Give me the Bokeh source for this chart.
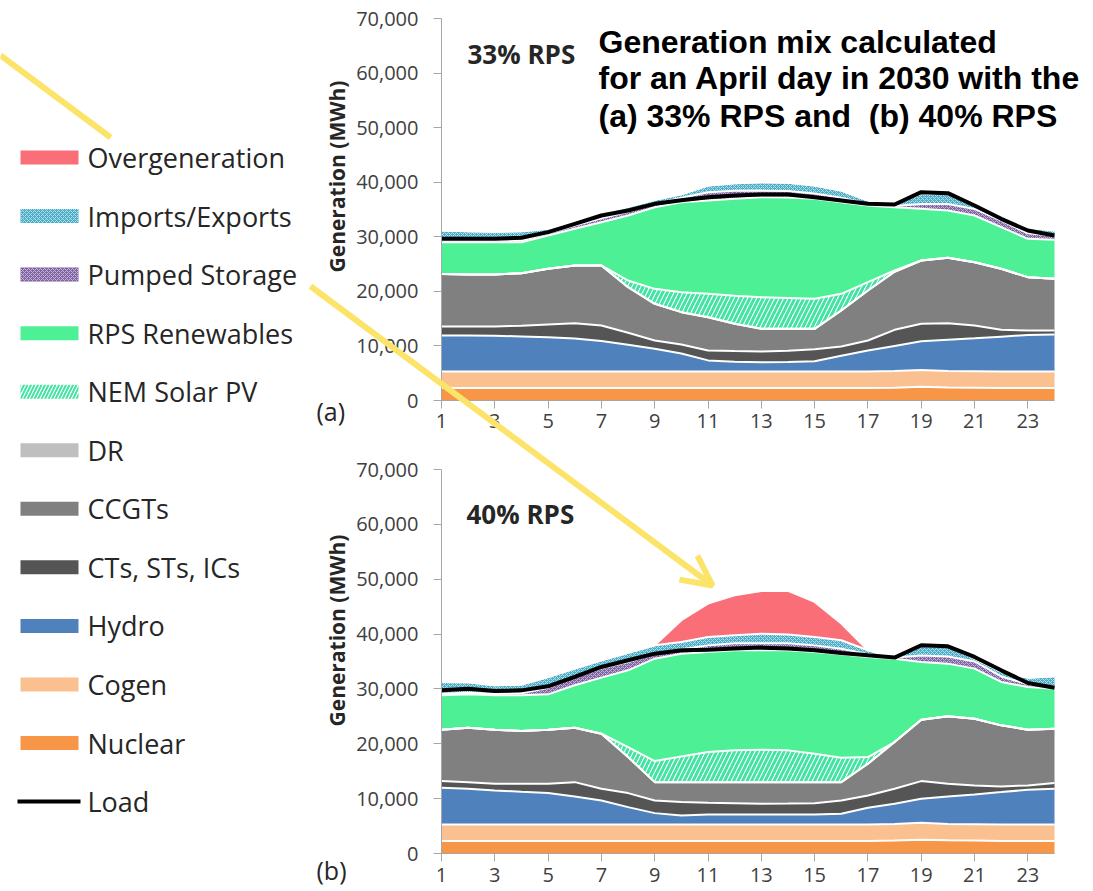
import math
import numpy as np
from bokeh.plotting import figure
from bokeh.models import (Range1d, FixedTicker, NumeralTickFormatter, Label, Arrow,
                          OpenHead, ColumnDataSource, LinearAxis)
from bokeh.embed import file_html
from bokeh.resources import INLINE
from bokeh.core.properties import value

# ---------------------------------------------------------------- data
hours = list(range(1, 25))
x_ticks = [1, 3, 5, 7, 9, 11, 13, 15, 17, 19, 21, 23]
y_ticks = [0, 10000, 20000, 30000, 40000, 50000, 60000, 70000]

# stacking order, bottom -> top
stack_keys = ["nuclear", "cogen", "hydro", "cts", "ccgt", "dr", "solar", "rps",
              "pumped", "imports", "overgen"]
stack_names = ["Nuclear", "Cogen", "Hydro", "CTs, STs, ICs", "CCGTs", "DR",
               "NEM Solar PV", "RPS Renewables", "Pumped Storage", "Imports/Exports",
               "Overgeneration"]
legend_names = ["Overgeneration", "Imports/Exports", "Pumped Storage", "RPS Renewables",
                "NEM Solar PV", "DR", "CCGTs", "CTs, STs, ICs", "Hydro", "Cogen",
                "Nuclear", "Load"]

# (a) 33% RPS
nuclear_a = [2300, 2300, 2300, 2300, 2300, 2300, 2300, 2300, 2300, 2300, 2300, 2300,
             2300, 2300, 2300, 2300, 2300, 2350, 2500, 2400, 2350, 2300, 2300, 2300]
cogen_a = [3000, 3000, 3000, 3000, 3000, 3000, 3000, 3000, 3000, 3000, 3000, 3000,
           3000, 3000, 3000, 3000, 3000, 3050, 3100, 3000, 3000, 3000, 3000, 3000]
hydro_a = [6600, 6600, 6550, 6450, 6300, 6050, 5600, 4900, 4200, 3300, 2050, 1800,
           1700, 1750, 1900, 2900, 3850, 4600, 5250, 5750, 6050, 6400, 6700, 6800]
cts_a = [1660, 1660, 1710, 1950, 2330, 2820, 2840, 2200, 1500, 1660, 1810, 1950,
         1980, 2050, 2200, 1700, 1850, 2950, 3200, 3020, 2340, 1250, 830, 730]
ccgt_a = [9640, 9540, 9530, 9630, 10200, 10570, 11000, 8370, 6720, 5930, 6110, 5000,
          4150, 4030, 3730, 6590, 9160, 10650, 11610, 11980, 11610, 11180, 9770, 9470]
dr_a = [0, 0, 0, 0, 0, 0, 0, 0, 0, 0, 0, 0, 0, 0, 0, 0, 0, 0, 0, 0, 0, 0, 0, 0]
solar_a = [0, 0, 0, 0, 0, 0, 0, 1220, 2740, 3660, 4280, 5150,
           5810, 5670, 5500, 3060, 1530, 220, 0, 0, 0, 0, 0, 0]
rps_a = [5810, 5910, 5920, 5680, 6110, 6720, 7940, 11910, 14960, 16490, 17100, 17750,
         18320, 18400, 18320, 16790, 14040, 11600, 9460, 8670, 8550, 7640, 7030, 7150]
pumped_a = [300, 300, 300, 300, 400, 600, 700, 700, 600, 800, 1500, 1500,
            1200, 1200, 1000, 800, 300, 200, 900, 1200, 1200, 1200, 1000, 800]
imports_a = [1840, 1690, 1590, 1690, 820, 740, 920, 900, 780, 660, 1250, 1350,
             1550, 1500, 1450, 1340, 620, 420, 1850, 1850, 630, 630, 1020, 900]
overgen_a = [0, 0, 0, 0, 0, 0, 0, 0, 0, 0, 0, 0, 0, 0, 0, 0, 0, 0, 0, 0, 0, 0, 0, 0]
load_a = [29630, 29630, 29630, 29820, 30850, 32380, 33900, 34820, 36040, 36700, 37260, 37570,
          37750, 37750, 37260, 36650, 36040, 35920, 38180, 38000, 35730, 33290, 31150, 30240]

# (b) 40% RPS
nuclear_b = [2300, 2300, 2300, 2300, 2300, 2300, 2300, 2300, 2300, 2300, 2300, 2300,
             2300, 2300, 2300, 2300, 2300, 2350, 2500, 2400, 2350, 2300, 2300, 2300]
cogen_b = [3000, 3000, 3000, 3000, 3000, 3000, 3000, 3000, 3000, 3000, 3000, 3000,
           3000, 3000, 3000, 3000, 3000, 3050, 3100, 3000, 3000, 3000, 3000, 3000]
hydro_b = [6700, 6500, 6200, 5950, 5710, 5100, 4370, 3150, 2060, 1630, 1820, 1820,
           1820, 1820, 1820, 1940, 3030, 3660, 4370, 5000, 5420, 5890, 6320, 6500]
cts_b = [1200, 1200, 1210, 1460, 1700, 2610, 2130, 2560, 2310, 2440, 2130, 2030,
         1940, 1980, 2060, 2430, 2250, 2740, 3230, 2310, 1640, 1040, 790, 1030]
ccgt_b = [9370, 9930, 9860, 9620, 9860, 9920, 10040, 6570, 3340, 3640, 3760, 3860,
          3950, 3910, 3830, 3340, 5780, 8510, 11190, 12290, 12160, 11130, 10160, 9920]
dr_b = [0, 0, 0, 0, 0, 0, 0, 0, 0, 0, 0, 0, 0, 0, 0, 0, 0, 0, 0, 0, 0, 0, 0, 0]
solar_b = [0, 0, 0, 0, 0, 0, 0, 1820, 3840, 4690, 5480, 5790,
           5910, 5790, 5180, 4450, 1220, 0, 0, 0, 0, 0, 0, 0]
rps_b = [6260, 6080, 6260, 6500, 6440, 7730, 10220, 13990, 18670, 18730, 18250, 18240,
         18120, 18240, 18550, 18850, 18250, 15210, 10520, 9610, 9130, 7910, 7780, 7300]
pumped_b = [300, 300, 300, 400, 1200, 1500, 1700, 1500, 900, 800, 1200, 1300,
            1300, 1300, 1200, 1000, 500, 200, 1200, 1300, 1300, 1000, 500, 300]
imports_b = [2140, 1890, 1530, 1570, 1970, 1540, 1460, 1710, 1540, 1330, 1530, 1460,
             1740, 1560, 1530, 1560, 710, 0, 1850, 1890, 520, 820, 1210, 1950]
overgen_b = [0, 0, 0, 0, 0, 0, 0, 0, 0, 3960, 6090, 7280,
             7790, 7970, 6390, 3040, 0, 0, 0, 0, 0, 0, 0, 0]
load_b = [29740, 30050, 29620, 29740, 30470, 32180, 34000, 35220, 36430, 37040, 37160, 37350,
          37530, 37350, 37040, 36560, 36130, 35710, 37960, 37770, 35830, 33390, 31080, 30230]

title_lines = ["Generation mix calculated", "for an April day in 2030 with the",
               "(a) 33% RPS and  (b) 40% RPS"]
panel_titles = ["33% RPS", "40% RPS"]
panel_tags = ["(a)", "(b)"]
y_title = "Generation (MWh)"

# ---------------------------------------------------------------- styles
fill_colors = {"nuclear": "#F79646", "cogen": "#FAC090", "hydro": "#4F81BD",
               "cts": "#555555", "ccgt": "#808080", "dr": "#BFBFBF", "solar": "#FFFFFF",
               "rps": "#4EF096", "pumped": "#8064A2", "imports": "#4BACC6",
               "overgen": "#FA6E78"}
hatch_patterns = {"solar": "right_diagonal_line", "pumped": "diagonal_cross",
                  "imports": "diagonal_cross"}
hatch_colors = {"solar": "#45E3A3", "pumped": "#C3B3D8", "imports": "#B0DDEA"}
hatch_scales = {"solar": 9, "pumped": 4, "imports": 4}
hatch_weights = {"solar": 3, "pumped": 1, "imports": 1}
YELLOW = "#FCE36A"
FONT = "Open Sans"
TICK_COLOR = "#A6A6A6"
LABEL_COLOR = "#404040"
TEXT_COLOR = "#262626"

# page geometry (pixels from the top-left of the page)
W, H = 1090, 890
FRAME_A = (441, 1054, 18, 400)      # left, right, top, bottom of panel (a)
FRAME_B = (441, 1054, 469, 853)     # panel (b)
ARROW_START = (0, 55)
ARROW_END = (712, 585)
LEGEND_BOX = (8, 310, 137)          # left, right, top of the legend box

p = figure(width=W, height=H, x_range=Range1d(0, W), y_range=Range1d(H, 0),
           output_backend="svg", toolbar_location=None, min_border=0,
           x_axis_type=None, y_axis_type=None)
p.outline_line_color = None
p.background_fill_color = "white"
p.border_fill_color = "white"


def panel_ranges(frame):
    l, r, t, b = frame
    hx = lambda px: 1 + (px - l) / (r - l) * (hours[-1] - hours[0])
    vy = lambda py: (b - py) / (b - t) * y_ticks[-1]
    return Range1d(hx(0), hx(W)), Range1d(vy(H), vy(0))


def draw_panel(name, frame, data, load, tick_standoff):
    xr, yr = panel_ranges(frame)
    p.extra_x_ranges[name + "_x"] = xr
    p.extra_y_ranges[name + "_y"] = yr
    rk = dict(x_range_name=name + "_x", y_range_name=name + "_y")

    cum = np.zeros(len(hours))
    bottoms, tops = [], []
    for k in stack_keys:
        bottoms.append(cum.copy())
        cum = cum + np.array(data[k], dtype=float)
        tops.append(cum.copy())
    for k, y1, y2 in zip(stack_keys, bottoms, tops):
        p.varea(x=hours, y1=y1, y2=y2, fill_color=fill_colors[k],
                hatch_pattern=hatch_patterns.get(k),
                hatch_color=hatch_colors.get(k, "white"),
                hatch_scale=hatch_scales.get(k, 6),
                hatch_weight=hatch_weights.get(k, 1), **rk)
    for y2 in tops:
        p.line(x=hours, y=y2, line_color="white", line_width=2, **rk)
    p.line(x=hours, y=load, line_color="black", line_width=4, **rk)

    xa = LinearAxis(fixed_location=0, bounds=(hours[0], hours[-1]),
                    ticker=FixedTicker(ticks=x_ticks), **rk)
    ya = LinearAxis(fixed_location=hours[0], bounds=(y_ticks[0], y_ticks[-1]),
                    ticker=FixedTicker(ticks=y_ticks),
                    formatter=NumeralTickFormatter(format="0,0"), **rk)
    for ax in (xa, ya):
        ax.axis_line_color = TICK_COLOR
        ax.major_tick_line_color = TICK_COLOR
        ax.minor_tick_line_color = None
        ax.major_tick_in = 0
        ax.major_tick_out = 8
        ax.major_label_text_font = FONT
        ax.major_label_text_font_size = "20px"
        ax.major_label_text_color = LABEL_COLOR
    ya.major_label_standoff = 15
    xa.major_label_standoff = tick_standoff
    p.add_layout(xa, "below")
    p.add_layout(ya, "left")


data_a = dict(nuclear=nuclear_a, cogen=cogen_a, hydro=hydro_a, cts=cts_a, ccgt=ccgt_a,
              dr=dr_a, solar=solar_a, rps=rps_a, pumped=pumped_a, imports=imports_a,
              overgen=overgen_a)
data_b = dict(nuclear=nuclear_b, cogen=cogen_b, hydro=hydro_b, cts=cts_b, ccgt=ccgt_b,
              dr=dr_b, solar=solar_b, rps=rps_b, pumped=pumped_b, imports=imports_b,
              overgen=overgen_b)

draw_panel("a", FRAME_A, data_a, load_a, 5)
draw_panel("b", FRAME_B, data_b, load_b, 6)

# ---------------------------------------------------------------- panel texts
for txt, (x, y) in zip(panel_titles, [(467, 53), (466, 513)]):
    p.add_layout(Label(x=x, y=y, text=txt, text_font=FONT, text_font_style="bold",
                       text_font_size="26px", text_color=TEXT_COLOR,
                       text_baseline="alphabetic"))
for txt, (x, y) in zip(panel_tags, [(316, 410), (316, 869)]):
    p.add_layout(Label(x=x, y=y, text=txt, text_font=FONT, text_font_size="25px",
                       text_color=TEXT_COLOR, text_baseline="alphabetic"))
for (x, y) in [(336, 176), (336, 630)]:
    p.add_layout(Label(x=x, y=y, text=y_title, text_font=FONT, text_font_style="bold",
                       text_font_size="21px", text_color=TEXT_COLOR, angle=math.pi / 2,
                       text_align="center", text_baseline="middle"))
for line, base in zip(title_lines, [41, 77, 115]):
    # keep the double space of the original visible in SVG text
    p.add_layout(Label(x=598, y=base, text=line.replace("  ", " \u00a0"),
                       text_font="Liberation Sans", text_font_style="bold",
                       text_font_size="32px", text_color="black",
                       text_baseline="alphabetic"))

# ---------------------------------------------------------------- legend
key_of = dict(zip(stack_names, stack_keys))
row_y = [157 + i * 58.55 for i in range(len(legend_names))]
sw_names = [n for n in legend_names if n in key_of]
sw_y = row_y[:len(sw_names)]
sw_keys = [key_of[n] for n in sw_names]
leg_src = ColumnDataSource(dict(
    top=[y - 7 for y in sw_y], bottom=[y + 7 for y in sw_y],
    fill=[fill_colors[k] for k in sw_keys],
    hatch=[hatch_patterns.get(k, " ") for k in sw_keys],
    hcol=[hatch_colors.get(k, "white") for k in sw_keys],
    hscale=[{"solar": 7}.get(k, hatch_scales.get(k, 6)) for k in sw_keys],
    hw=[{"solar": 2}.get(k, hatch_weights.get(k, 1)) for k in sw_keys],
))
p.quad(left=20, right=78, top="top", bottom="bottom", source=leg_src,
       fill_color="fill", hatch_pattern="hatch", hatch_color="hcol",
       hatch_scale="hscale", hatch_weight="hw", line_color=None)
p.segment(x0=[17], y0=[row_y[-1]], x1=[80], y1=[row_y[-1]], line_color="black",
          line_width=4)
p.text(x=[87] * len(legend_names), y=row_y, text=legend_names,
       text_font=value(FONT), text_font_size="27px", text_color=TEXT_COLOR,
       text_baseline="middle", text_align="left")

# ---------------------------------------------------------------- yellow arrow
# passes behind the legend box: drawn as the part before and the part after it
(x0, y0), (x1, y1) = ARROW_START, ARROW_END
slope = (y1 - y0) / (x1 - x0)
enter_x = x0 + (LEGEND_BOX[2] - y0) / slope
exit_y = y0 + (LEGEND_BOX[1] - x0) * slope
p.add_layout(Arrow(x_start=x0, y_start=y0, x_end=enter_x, y_end=LEGEND_BOX[2], end=None,
                   line_color=YELLOW, line_width=6, level="overlay"))
p.add_layout(Arrow(x_start=LEGEND_BOX[1], y_start=exit_y, x_end=x1, y_end=y1,
                   end=OpenHead(size=30, line_color=YELLOW, line_width=6),
                   line_color=YELLOW, line_width=6, level="overlay"))

with open("out.html", "w") as f:
    f.write(file_html(p, INLINE, "Generation mix"))
